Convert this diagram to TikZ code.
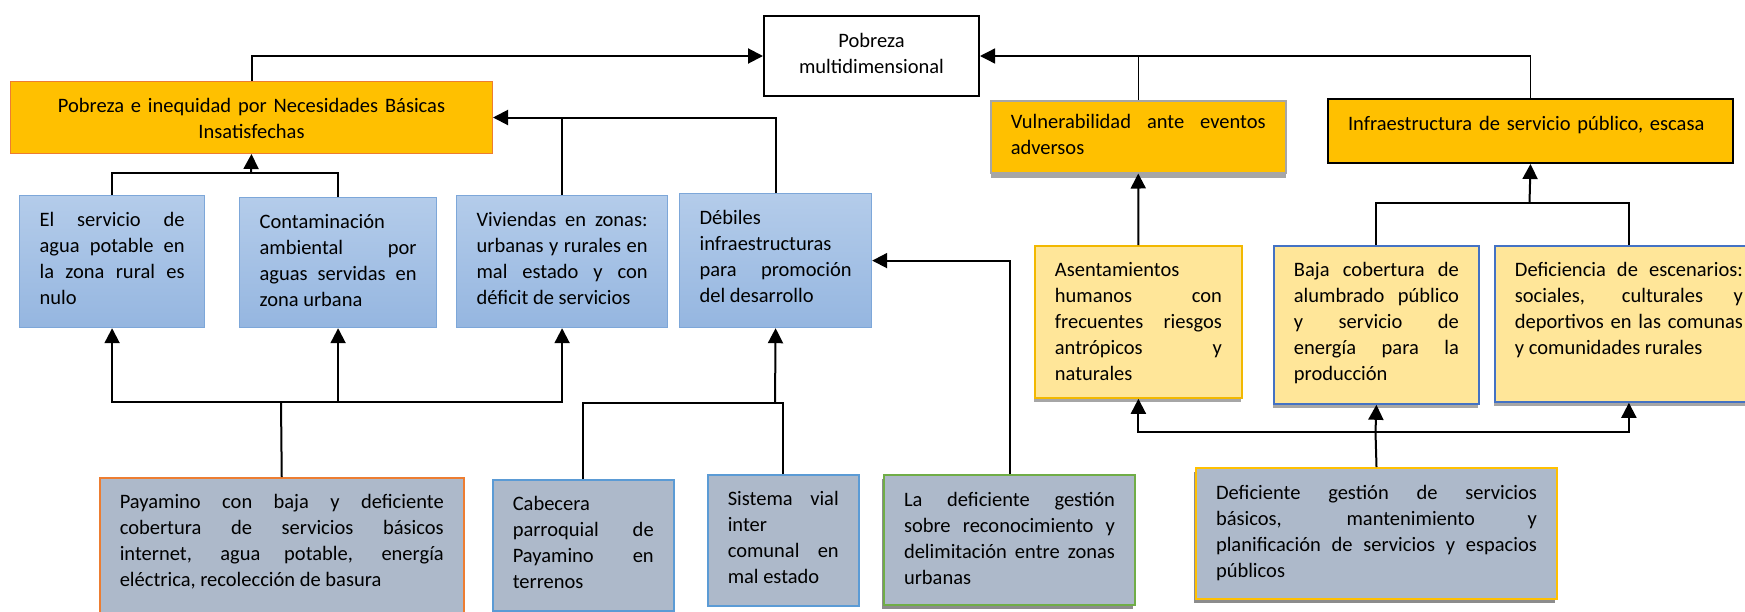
\documentclass[tikz,border=0pt]{standalone}
\usepackage{fontspec}
\setmainfont{Carlito}
\usepackage{xcolor}
\usepackage{tikz}
\usetikzlibrary{arrows.meta,positioning,calc,shadows}
\definecolor{gold}{HTML}{FFC000}
\definecolor{lightgold}{HTML}{FFE699}
\definecolor{orangeline}{HTML}{ED7D31}
\definecolor{blueline}{HTML}{4472C4}
\definecolor{skyline}{HTML}{5B9BD5}
\definecolor{paleline}{HTML}{7DA7D9}
\definecolor{bluetop}{HTML}{B4CCEA}
\definecolor{bluebot}{HTML}{95B6E0}
\definecolor{slate}{HTML}{ADB9CA}
\definecolor{greenline}{HTML}{70AD47}
\definecolor{goldline}{HTML}{F2B800}
\hyphenpenalty=10000
\exhyphenpenalty=10000
\tolerance=10000

\begin{document}
\begin{tikzpicture}[x=1pt,y=-1pt,font=\fontsize{20.5pt}{26pt}\selectfont]
  % problem tree, coordinates in pixels from the top left corner
  \tikzset{box/.style={draw,anchor=north west,inner xsep=20pt,inner ysep=0pt,
      text height=31pt,align=justify},
    keybox/.style={box,fill=white,draw=black,line width=2pt,align=center},
    goldbox/.style={box,fill=gold},
    bluebox/.style={box,top color=bluetop,bottom color=bluebot,draw=paleline,line width=1.2pt},
    palebox/.style={box,fill=lightgold,line width=1.8pt,
      drop shadow={shadow xshift=-1pt,shadow yshift=-4pt,fill=black!35,opacity=1}},
    slatebox/.style={box,fill=slate,line width=1.5pt},
    shadowed/.style={drop shadow={shadow xshift=-2pt,shadow yshift=-4pt,fill=black!45,opacity=1}},
    wire/.style={line width=2pt},
    arrowed/.style={wire,-{Triangle[length=15pt,width=15pt]}}}
  \useasboundingbox (0,0) rectangle (1745,611);
  \clip (0,0) rectangle (1745,611);

  % effects
  \node[keybox,text width=175pt,text depth=49pt] (pobreza) at (763,15)
    {Pobreza\\multidimensional};
  \node[goldbox,draw=orangeline,line width=1pt,align=center,text width=442pt,text depth=41pt] (nbi) at (10,81)
    {Pobreza e inequidad por Necesidades Básicas\\Insatisfechas};
  \node[goldbox,draw=black!35,line width=1.5pt,text width=255pt,text height=28pt,text depth=44pt,
    drop shadow={shadow xshift=0pt,shadow yshift=-5pt,fill=black!35,opacity=1}] (vuln) at (990,100)
    {Vulnerabilidad ante eventos\linebreak adversos};
  \node[goldbox,draw=black,line width=2pt,align=left,text width=365pt,text depth=33pt] (infra) at (1327,98)
    {Infraestructura de servicio público, escasa};

  % direct causes
  \node[bluebox,text width=145pt,text depth=101pt] (agua) at (19,195)
    {El servicio de\linebreak agua potable en\linebreak la zona rural es\linebreak nulo};
  \node[bluebox,text width=157pt,text depth=99pt] (contam) at (239,197)
    {Contaminación\\ambiental por\linebreak aguas servidas en\linebreak zona urbana};
  \node[bluebox,text width=171pt,text depth=101pt] (viv) at (456,195)
    {Viviendas en zonas:\linebreak urbanas y rurales en\linebreak mal estado y con\linebreak déficit de servicios};
  \node[bluebox,text width=152pt,text depth=103pt] (deb) at (679,193)
    {Débiles\\infraestructuras\\para promoción\linebreak del desarrollo};
  \node[palebox,draw=goldline,text width=167pt,text depth=121pt] (asent) at (1034,245)
    {Asentamientos\\humanos con\linebreak frecuentes riesgos\linebreak antrópicos y\linebreak naturales};
  \node[palebox,draw=blueline,text width=165pt,text depth=127pt] (baja) at (1273,245)
    {Baja cobertura de\linebreak alumbrado público\linebreak y servicio de\linebreak energía para la\linebreak producción};
  \node[palebox,draw=blueline,text width=228pt,text depth=125pt] (defesc) at (1494,245)
    {Deficiencia de escenarios:\linebreak sociales, culturales y\linebreak deportivos en las comunas\linebreak y comunidades rurales};

  % root causes
  \node[slatebox,draw=orangeline,text width=324pt,text depth=119pt] (payamino) at (99,477)
    {Payamino con baja y deficiente\linebreak cobertura de servicios básicos\linebreak internet, agua potable, energía\linebreak eléctrica, recolección de basura};
  \node[slatebox,draw=skyline,text width=141pt,text depth=100pt] (cabecera) at (492,479)
    {Cabecera\\parroquial de\linebreak Payamino en\linebreak terrenos};
  \node[slatebox,draw=skyline,text width=111pt,text depth=100pt] (sistema) at (707,474)
    {Sistema vial\linebreak inter\\comunal en\linebreak mal estado};
  \node[slatebox,shadowed,draw=greenline,line width=2pt,text width=211pt,text depth=99pt] (gestion) at (883,474)
    {La deficiente gestión\linebreak sobre reconocimiento y\linebreak delimitación entre zonas\linebreak urbanas};
  \node[slatebox,shadowed,draw=gold,line width=2pt,text width=321pt,text depth=100pt] (defgest) at (1195,467)
    {Deficiente gestión de servicios\linebreak básicos, mantenimiento y\linebreak planificación de servicios y espacios\linebreak públicos};

  % junctions
  \coordinate (jnbi) at (251,173);
  \coordinate (jbl) at (281,402);
  \coordinate (jdeb) at (775,403);
  \coordinate (jinfra) at (1529.5,203);
  \coordinate (jres) at (1375.5,432);

  % connectors
  \draw[arrowed] (nbi.north) |- (pobreza.west);
  \draw[arrowed,line width=1.4pt] (infra.north) |- (pobreza.east);
  \draw[wire,line width=1.4pt] (vuln.north) -- (vuln.north |- pobreza.east);
  \draw[arrowed] (deb.north) |- (nbi.east);
  \draw[wire] (viv.north) -- (viv.north |- nbi.east);
  \draw[wire] (agua.north) |- (jnbi) -| (contam.north);
  \draw[arrowed] (jnbi) -- (nbi.south);
  \draw[wire] (payamino.north) -- (jbl);
  \draw[arrowed] (jbl) -| (agua.south);
  \draw[arrowed] (jbl) -| (viv.south);
  \draw[arrowed] (contam.south |- jbl) -- (contam.south);
  \draw[wire] (cabecera.north) |- (jdeb);
  \draw[wire] (sistema.north) |- (jdeb);
  \draw[arrowed] (jdeb) -- (deb.south);
  \draw[arrowed] (gestion.north) |- (deb.east);
  \draw[arrowed] (asent.north) -- (vuln.south);
  \draw[wire] (baja.north) |- (jinfra) -| (defesc.north);
  \draw[arrowed] (jinfra) -- (infra.south);
  \draw[wire] (defgest.north) -- (jres);
  \draw[arrowed] (jres) -| (asent.south);
  \draw[arrowed] (jres) -| (defesc.south);
  \draw[arrowed] (jres) -- (baja.south);
\end{tikzpicture}
\end{document}
